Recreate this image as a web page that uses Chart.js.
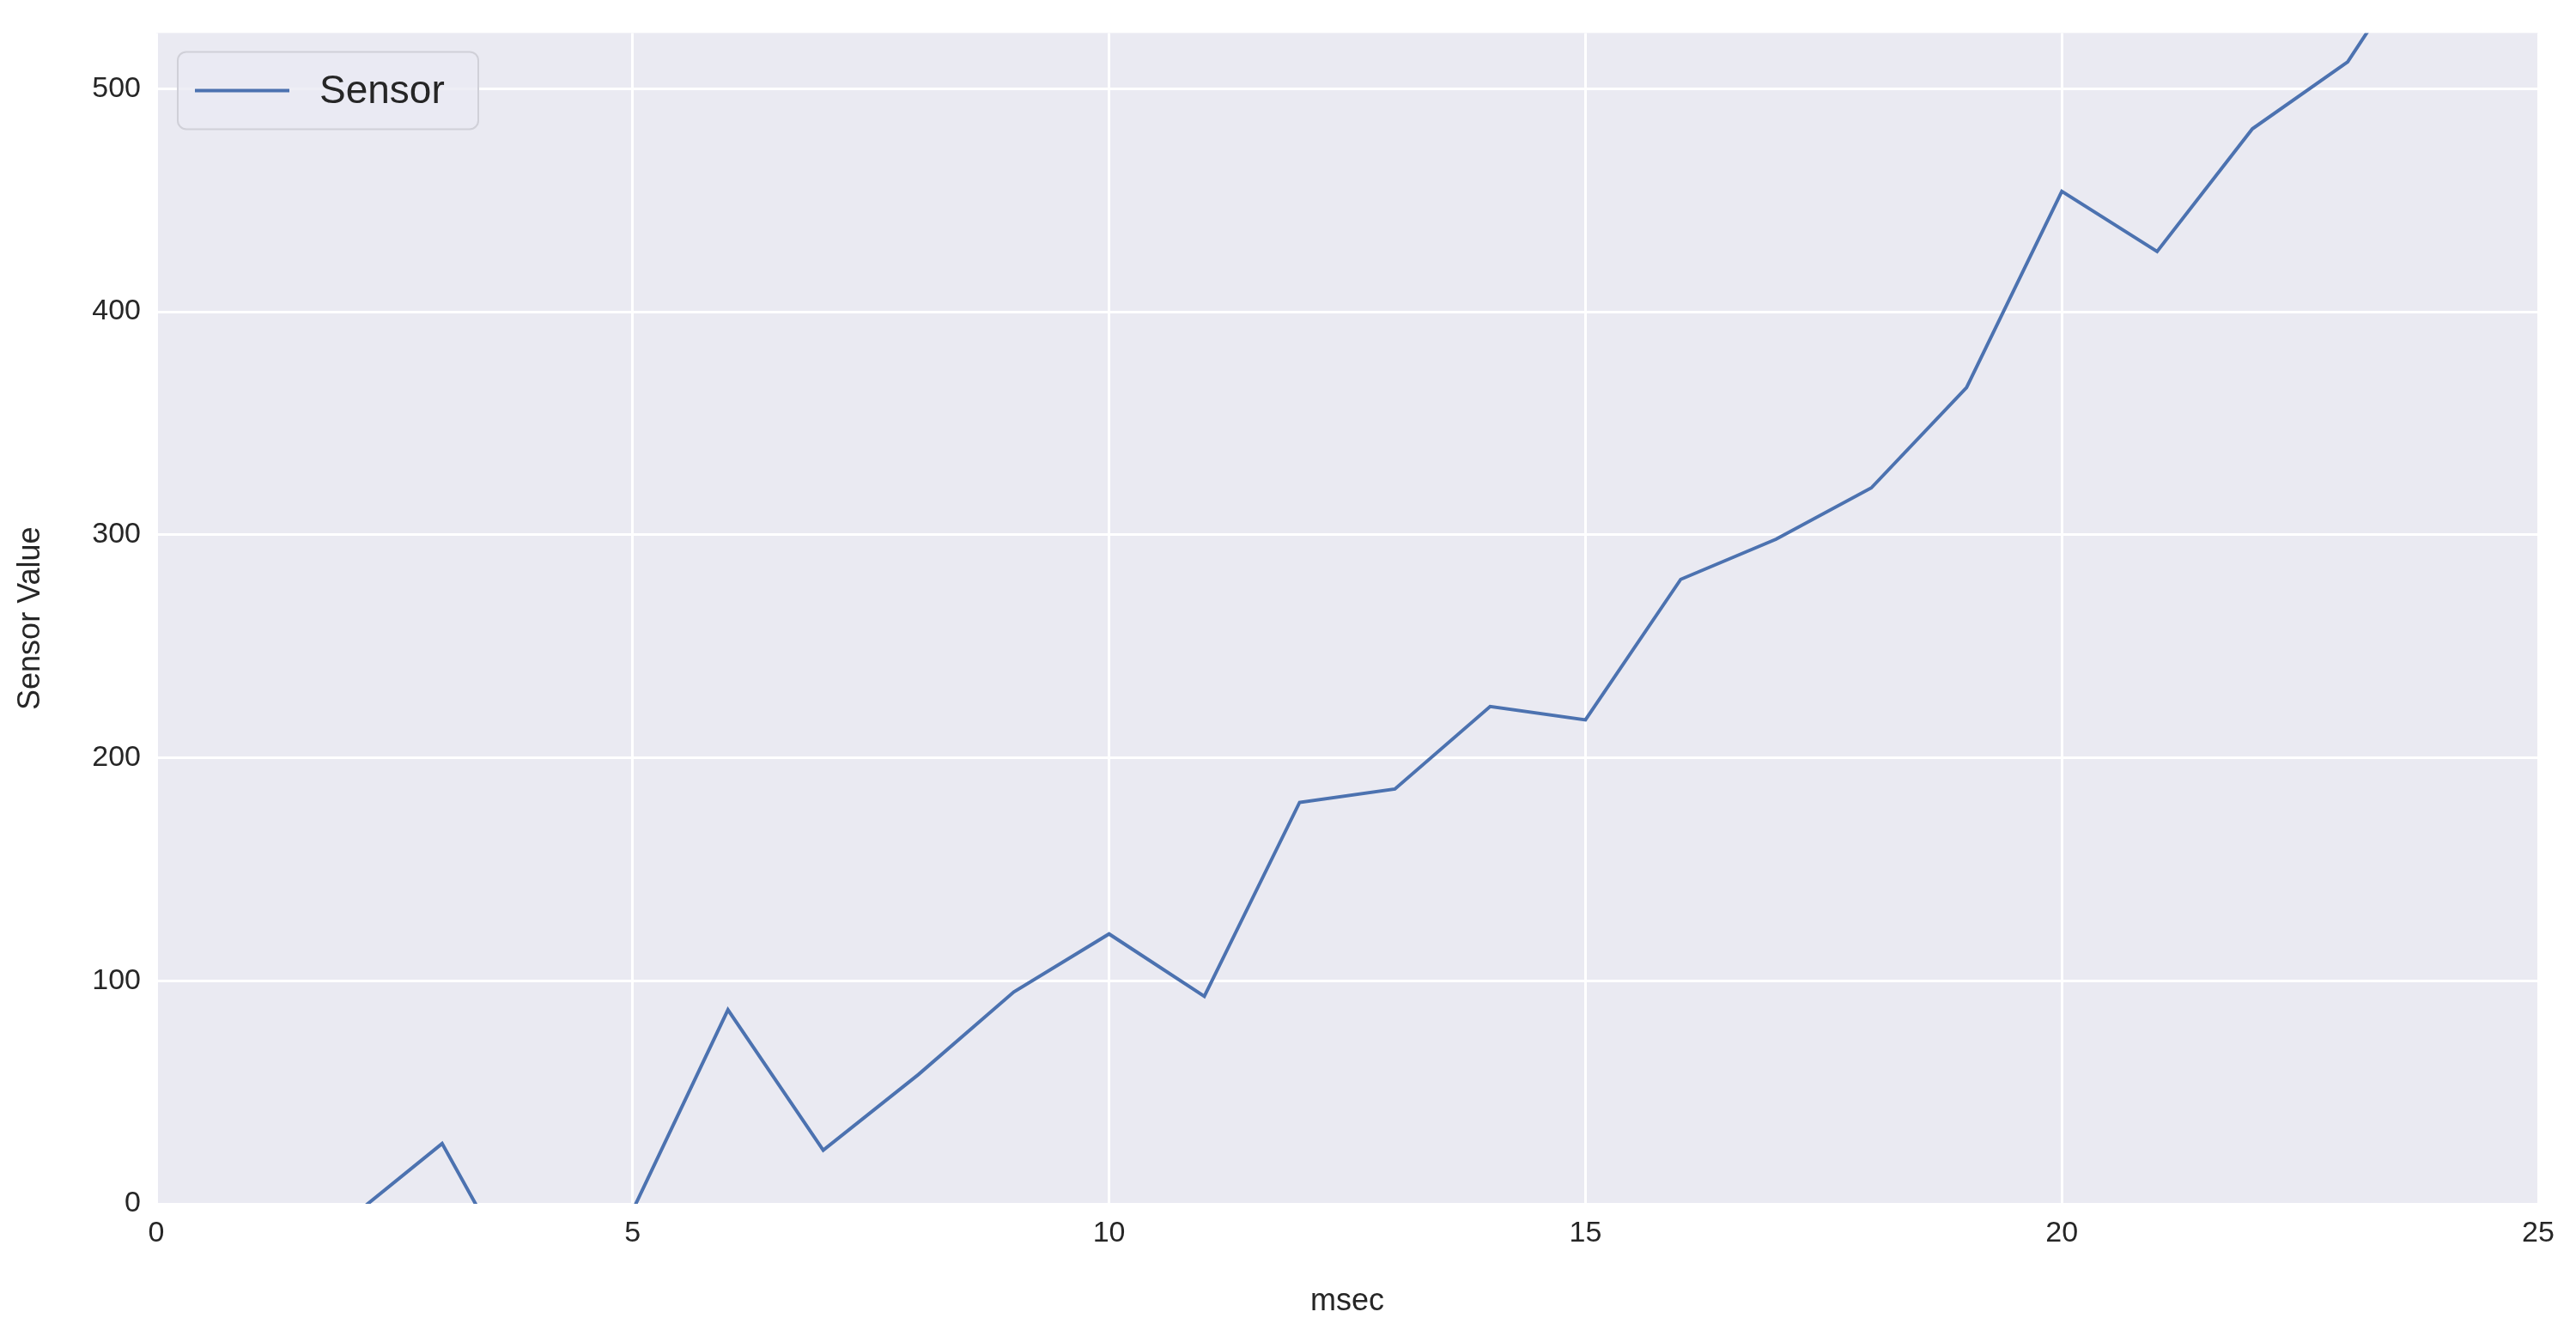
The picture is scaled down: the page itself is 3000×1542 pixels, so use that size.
<!DOCTYPE html>
<html><head><meta charset="utf-8">
<script src="https://cdn.jsdelivr.net/npm/chart.js@4"></script>
<style>html,body{margin:0;padding:0;background:#fff}</style>
</head><body>
<canvas id="c" width="3000" height="1542" style="width:3000px;height:1542px"></canvas>
<script>
const msec = [0,1,2,3,4,5,6,7,8,9,10,11,12,13,14,15,16,17,18,19,20,21,22,23,24];
const sensor = [-20,-12,-7.6,27,-50,-3,87,24,58,95,121,93,180,186,223,217,280,298,321,366,454,427,482,512,577];
const xTicks = [0,5,10,15,20,25];
const yTicks = [0,100,200,300,400,500];
const seriesName = 'Sensor';

const bgPlugin = {
  id:'bg',
  beforeDraw(ch){const a=ch.chartArea,c=ch.ctx;c.save();c.fillStyle='#EAEAF2';c.fillRect(a.left,a.top,a.right-a.left,a.bottom-a.top);c.restore();}
};
const legendPlugin = {
  id:'lg',
  afterDraw(ch){const a=ch.chartArea,c=ch.ctx;c.save();
    const x=a.left+25,y=a.top+22,w=350,h=90,r=10;
    c.fillStyle='rgba(234,234,242,0.8)';c.strokeStyle='#d0d0d8';c.lineWidth=2;
    c.beginPath();c.roundRect(x,y,w,h,r);c.fill();c.stroke();
    c.strokeStyle='#4C72B0';c.lineWidth=4;c.beginPath();c.moveTo(x+20,y+45);c.lineTo(x+130,y+45);c.stroke();
    c.fillStyle='#262626';c.font='46px "Liberation Sans", Arial, sans-serif';c.textBaseline='middle';
    c.fillText(seriesName,x+165,y+47);c.restore();}
};
new Chart(document.getElementById('c'),{
  type:'line',
  data:{datasets:[{label:seriesName,data:msec.map((x,i)=>({x,y:sensor[i]})),borderColor:'#4C72B0',borderWidth:4,pointRadius:0,tension:0,fill:false}]},
  options:{responsive:false,animation:false,
    layout:{padding:{left:10,right:44,top:34,bottom:0}},
    plugins:{legend:{display:false},tooltip:{enabled:false}},
    scales:{
      x:{type:'linear',min:0,max:25,
        afterBuildTicks(s){s.ticks=xTicks.map(v=>({value:v}));},
        afterFit(s){s.height=140;},
        grid:{color:'#ffffff',lineWidth:3,drawTicks:false},border:{display:false},
        ticks:{color:'#262626',font:{size:34,family:'Liberation Sans'},padding:14},
        title:{display:true,text:'msec',color:'#262626',font:{size:36,family:'Liberation Sans'},padding:{top:4}}},
      y:{min:0,max:525,
        afterBuildTicks(s){s.ticks=yTicks.map(v=>({value:v}));},
        afterFit(s){s.width=172;},
        grid:{color:'#ffffff',lineWidth:3,drawTicks:false},border:{display:false},
        ticks:{color:'#262626',font:{size:34,family:'Liberation Sans'},padding:18},
        title:{display:true,text:'Sensor Value',color:'#262626',font:{size:36,family:'Liberation Sans'},padding:{bottom:4}}}
    }},
  plugins:[bgPlugin,legendPlugin]
});
</script>
</body></html>
